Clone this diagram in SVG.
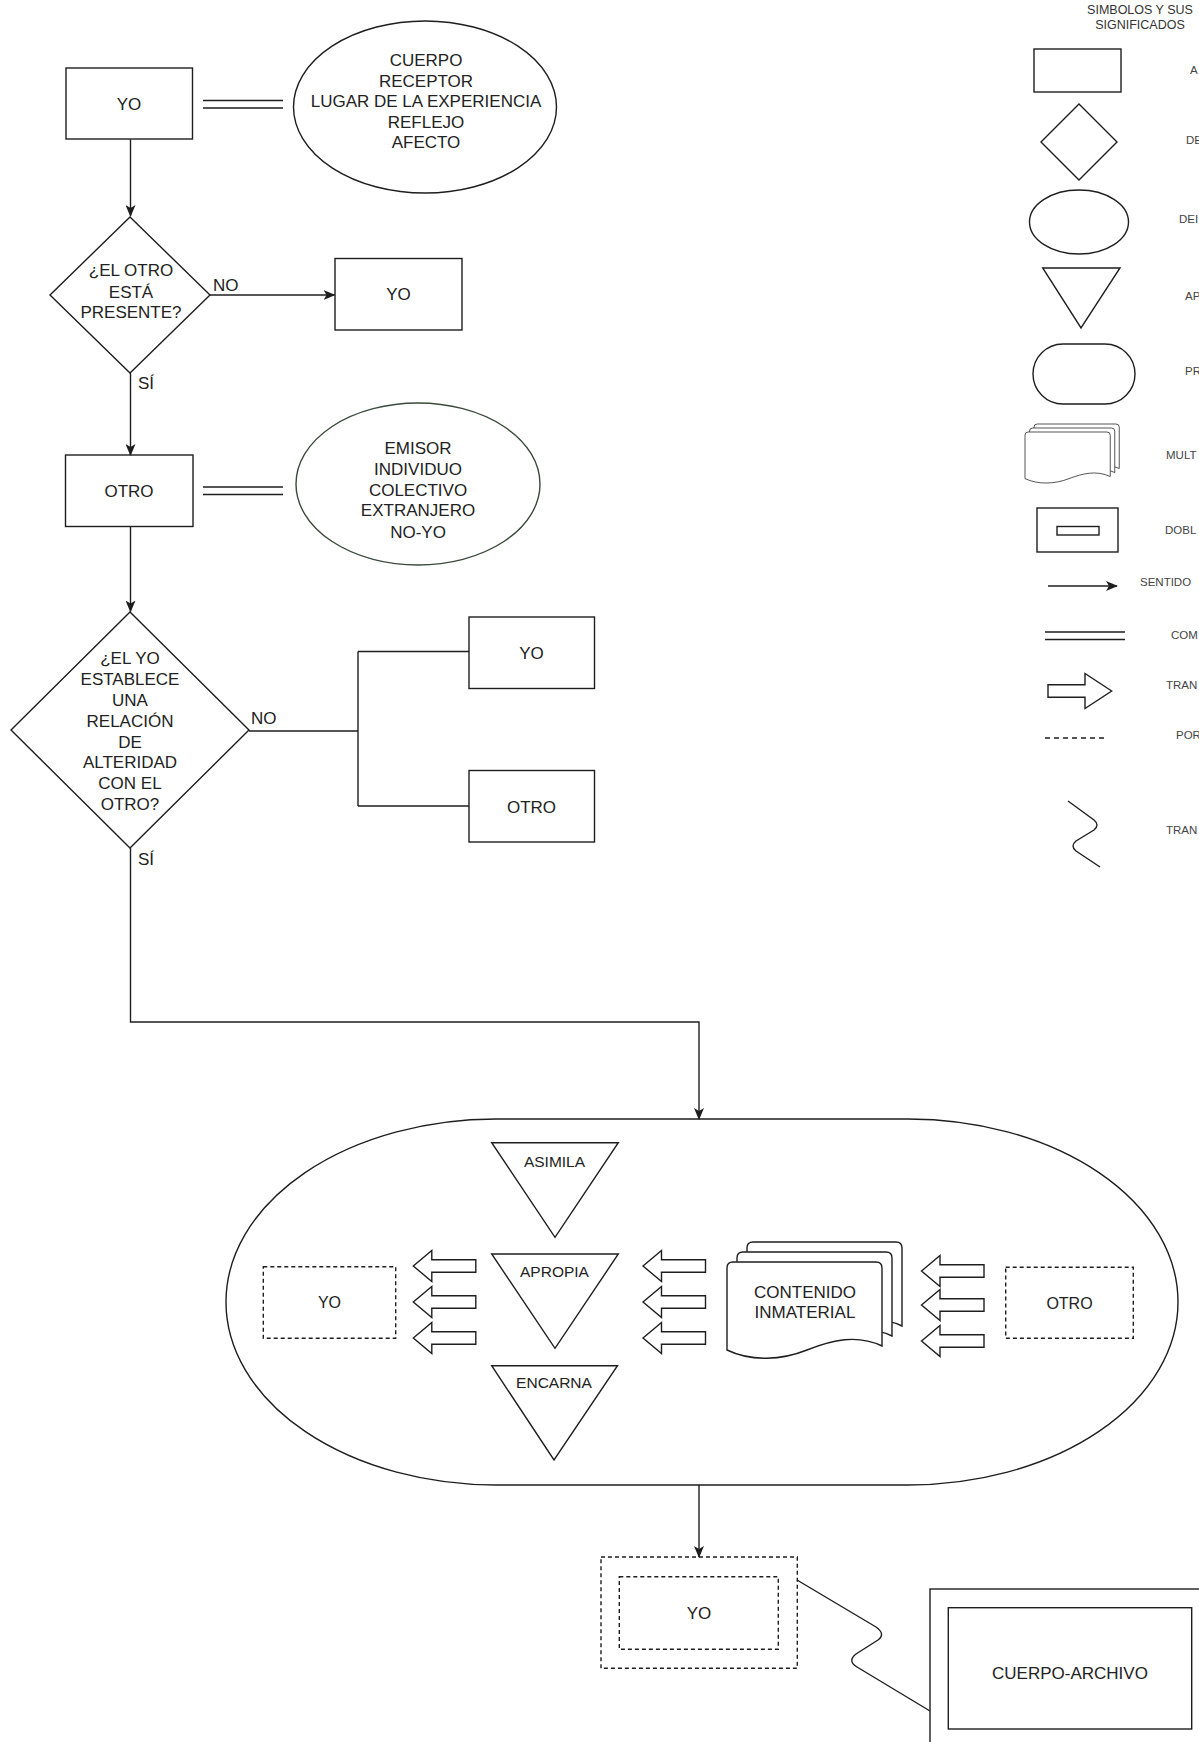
<svg xmlns="http://www.w3.org/2000/svg" width="1199" height="1742" viewBox="0 0 1199 1742">
<defs>
<style>
.s{fill:#fff;stroke:#1e1e1e;stroke-width:1.4}
.n{fill:none;stroke:#1e1e1e;stroke-width:1.4}
.d{fill:#fff;stroke:#1e1e1e;stroke-width:1.4;stroke-dasharray:4 3}
.e2{fill:#fff;stroke:#3b4a3b;stroke-width:1.4}
.t{font-family:"Liberation Sans",Arial,Helvetica,sans-serif;font-size:17px;fill:#222;text-anchor:middle}
.tl{font-family:"Liberation Sans",Arial,Helvetica,sans-serif;font-size:17px;fill:#222}
.tr{font-family:"Liberation Sans",Arial,Helvetica,sans-serif;font-size:15.5px;fill:#222;text-anchor:middle}
.tb{font-family:"Liberation Sans",Arial,Helvetica,sans-serif;font-size:16px;fill:#222;text-anchor:middle}
.lg{font-family:"Liberation Sans",Arial,Helvetica,sans-serif;font-size:11.5px;fill:#444}
.lt{font-family:"Liberation Sans",Arial,Helvetica,sans-serif;font-size:12.5px;fill:#333;text-anchor:middle}
</style>
<marker id="ah" markerWidth="12" markerHeight="10" refX="11" refY="5" orient="auto" markerUnits="userSpaceOnUse">
<path d="M0,0 L12,5 L0,10 L3,5 Z" fill="#1e1e1e"/>
</marker>
<path id="harrow" d="M0,0 L18.5,-15.5 L18.5,-6.2 L62.5,-6.2 L62.5,6.2 L18.5,6.2 L18.5,15.5 Z"/>
<path id="doc" d="M6,0 H149 Q155,0 155,6 V84 C130,72 105,78 80,88 C55,98 25,100 0,88 V6 Q0,0 6,0 Z"/>
</defs>
<rect x="0" y="0" width="1199" height="1742" fill="#fff"/>

<g id="yo1">
<rect class="s" x="66" y="68" width="126.5" height="71"/>
<text class="t" x="129" y="110">YO</text>
</g>
<g id="ellipse-yo">
<ellipse class="s" cx="425" cy="107" rx="131.5" ry="86"/>
<text class="t" x="426" y="66">CUERPO</text>
<text class="t" x="426" y="86.7">RECEPTOR</text>
<text class="t" x="426" y="107">LUGAR DE LA EXPERIENCIA</text>
<text class="t" x="426" y="127.7">REFLEJO</text>
<text class="t" x="426" y="147.7">AFECTO</text>
</g>
<g id="decision1">
<polygon class="s" points="130,217 210,295 130,373 50,295"/>
<text class="t" x="131" y="276">¿EL OTRO</text>
<text class="t" x="131" y="298">ESTÁ</text>
<text class="t" x="131" y="318">PRESENTE?</text>
</g>
<g id="label-no1"><text class="tl" x="213" y="291">NO</text></g>
<g id="label-si1"><text class="tl" x="138" y="389">SÍ</text></g>
<g id="yo2">
<rect class="s" x="335" y="258.5" width="127" height="71.5"/>
<text class="t" x="398.5" y="300">YO</text>
</g>
<g id="otro1">
<rect class="s" x="65.5" y="455" width="127.5" height="71.5"/>
<text class="t" x="129" y="497">OTRO</text>
</g>
<g id="ellipse-otro">
<ellipse class="e2" cx="418" cy="484" rx="122" ry="81"/>
<text class="t" x="418" y="454.3">EMISOR</text>
<text class="t" x="418" y="475">INDIVIDUO</text>
<text class="t" x="418" y="495.5">COLECTIVO</text>
<text class="t" x="418" y="516.3">EXTRANJERO</text>
<text class="t" x="418" y="537.5">NO-YO</text>
</g>
<g id="decision2">
<polygon class="s" points="130,612 249,730 130,848 11,730"/>
<text class="t" x="130" y="664.3">¿EL YO</text>
<text class="t" x="130" y="685.1">ESTABLECE</text>
<text class="t" x="130" y="705.9">UNA</text>
<text class="t" x="130" y="726.7">RELACIÓN</text>
<text class="t" x="130" y="747.5">DE</text>
<text class="t" x="130" y="768.3">ALTERIDAD</text>
<text class="t" x="130" y="789.1">CON EL</text>
<text class="t" x="130" y="809.9">OTRO?</text>
</g>
<g id="label-no2"><text class="tl" x="251" y="724">NO</text></g>
<g id="label-si2"><text class="tl" x="138" y="865">SÍ</text></g>
<g id="yo3">
<rect class="s" x="469" y="617" width="125.5" height="71.5"/>
<text class="t" x="531.5" y="659">YO</text>
</g>
<g id="otro3">
<rect class="s" x="469" y="770.5" width="125.5" height="71.5"/>
<text class="t" x="531.5" y="812.5">OTRO</text>
</g>

<g id="process">
<path class="s" d="M496,1119 H908 A270,183 0 0 1 908,1485 H496 A270,183 0 0 1 496,1119 Z"/>
</g>
<g id="asimila">
<polygon class="s" points="491.7,1142.7 618.3,1142.7 555,1237.3"/>
<text class="tr" x="554.5" y="1166.5">ASIMILA</text>
</g>
<g id="apropia">
<polygon class="s" points="491.7,1254 618.3,1254 555,1348.3"/>
<text class="tr" x="554.5" y="1277">APROPIA</text>
</g>
<g id="encarna">
<polygon class="s" points="491.7,1365.7 617.5,1365.7 554,1460"/>
<text class="tr" x="554" y="1388">ENCARNA</text>
</g>
<g id="yo-inner">
<rect class="d" x="263.3" y="1266.7" width="132.4" height="71.6"/>
<text class="tb" x="329.5" y="1308">YO</text>
</g>
<g id="otro-inner">
<rect class="d" x="1005.7" y="1267.3" width="127.6" height="71"/>
<text class="tb" x="1069.5" y="1309">OTRO</text>
</g>
<g id="contenido">
<use href="#doc" class="s" x="747" y="1242"/>
<use href="#doc" class="s" x="737" y="1252"/>
<use href="#doc" class="s" x="727" y="1262"/>
<text class="t" x="805" y="1298">CONTENIDO</text>
<text class="t" x="805" y="1318">INMATERIAL</text>
</g>

<g id="yo-final">
<rect class="d" x="601" y="1557" width="196.3" height="111.3"/>
<rect class="d" x="619.3" y="1576.7" width="159" height="72.6"/>
<text class="t" x="699" y="1619">YO</text>
</g>
<g id="cuerpo-archivo">
<rect class="s" x="930" y="1589" width="290" height="180"/>
<rect class="s" x="948.3" y="1607.7" width="243.4" height="121.3"/>
<text class="t" x="1070" y="1679">CUERPO-ARCHIVO</text>
</g>

<g id="legend">
<text class="lt" x="1140" y="14">SIMBOLOS Y SUS</text>
<text class="lt" x="1140" y="29">SIGNIFICADOS</text>
<rect class="s" x="1034" y="49" width="87" height="43"/>
<text class="lg" x="1190" y="74">A</text>
<polygon class="s" points="1079,104 1117,142 1079,180 1041,142"/>
<text class="lg" x="1186" y="144">DE</text>
<ellipse class="s" cx="1079" cy="222" rx="49.5" ry="32"/>
<text class="lg" x="1179" y="223">DEI</text>
<polygon class="s" points="1042.7,268 1120,268 1081,328"/>
<text class="lg" x="1185" y="300">AP</text>
<rect class="s" x="1033" y="344" width="102" height="60" rx="30" ry="30"/>
<text class="lg" x="1185" y="375">PR</text>
<g transform="translate(1034,424) scale(0.55,0.53)"><use href="#doc" class="s"/></g>
<g transform="translate(1029.5,428) scale(0.55,0.53)"><use href="#doc" class="s"/></g>
<g transform="translate(1025,432) scale(0.55,0.53)"><use href="#doc" class="s"/></g>
<text class="lg" x="1166" y="459">MULT</text>
<rect class="s" x="1037" y="508" width="81" height="44"/>
<rect class="s" x="1057" y="526.5" width="42" height="8.5"/>
<text class="lg" x="1165" y="534">DOBL</text>
<path class="n" d="M1048,586 H1117" marker-end="url(#ah)"/>
<text class="lg" x="1140" y="586">SENTIDO</text>
<path class="n" d="M1045,632 H1125 M1045,639.5 H1125"/>
<text class="lg" x="1171" y="639">COM</text>
<path class="s" d="M1111.7,691 L1085,673.5 L1085,684.8 L1048,684.8 L1048,697.2 L1085,697.2 L1085,708.5 Z"/>
<text class="lg" x="1166" y="689">TRAN</text>
<path class="n" d="M1045,738 H1108" stroke-dasharray="5 4"/>
<text class="lg" x="1176" y="739">POR</text>
<path class="n" d="M1068,801 L1094,820 Q1100,825 1094,830 L1076,841 Q1070,846 1076,851 L1100,867"/>
<text class="lg" x="1166" y="834">TRAN</text>
</g>

<g id="connectors">
<path class="n" d="M130.5,139.3 V216" marker-end="url(#ah)"/>
<path class="n" d="M210,295 H334.5" marker-end="url(#ah)"/>
<path class="n" d="M130.5,373 V455" marker-end="url(#ah)"/>
<path class="n" d="M130.5,526.5 V611.5" marker-end="url(#ah)"/>
<path class="n" d="M249,731 H358 M358,651.5 V806 M358,651.5 H469 M358,806 H469"/>
<path class="n" d="M130.5,848 V1022 H699 V1119" marker-end="url(#ah)"/>
<path class="n" d="M699,1485 V1557" marker-end="url(#ah)"/>
<path class="n" d="M203,100.5 H283 M203,108 H283"/>
<path class="n" d="M203,487 H283 M203,494.5 H283"/>
<path class="n" d="M797,1580 L876,1627 Q886,1634 878,1640 L856,1654 Q847,1661 857,1667 L930,1711"/>
<g class="s">
<use href="#harrow" x="413.3" y="1266"/>
<use href="#harrow" x="413.3" y="1302"/>
<use href="#harrow" x="413.3" y="1338"/>
<use href="#harrow" x="643" y="1266"/>
<use href="#harrow" x="643" y="1302"/>
<use href="#harrow" x="643" y="1338"/>
<use href="#harrow" x="921.5" y="1271"/>
<use href="#harrow" x="921.5" y="1305"/>
<use href="#harrow" x="921.5" y="1341"/>
</g>
</g>
</svg>
